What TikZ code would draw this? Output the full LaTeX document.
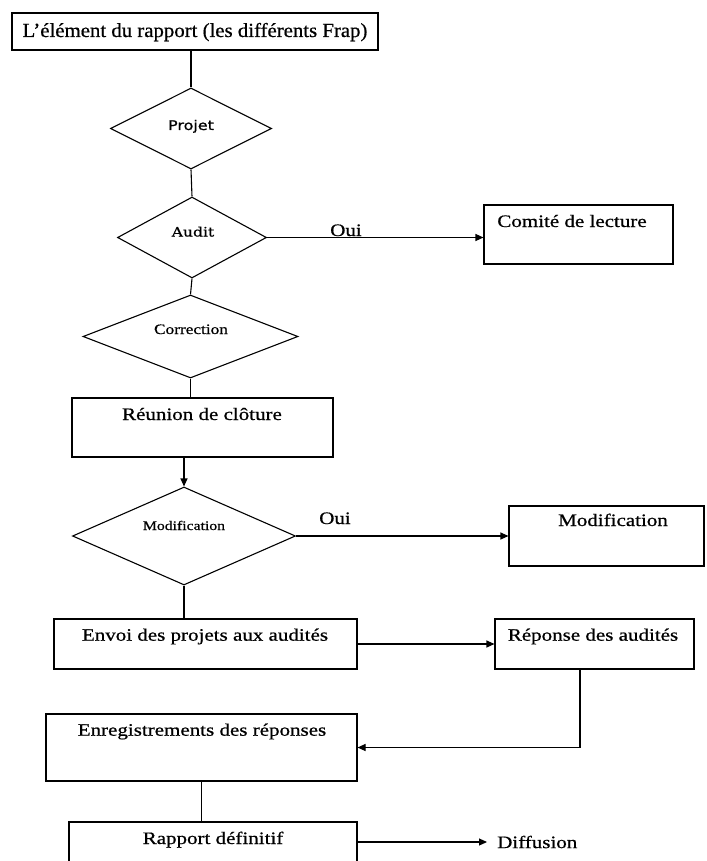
\documentclass[tikz,border=0pt]{standalone}
\usepackage{fontspec}
\usepackage{graphicx}
\setmainfont{Liberation Serif}[RawFeature={embolden=0.6}]
\newfontfamily\dvsans{DejaVu Sans}[RawFeature={embolden=0.9}]
\newfontfamily\dvserif{DejaVu Serif}[RawFeature={embolden=0.6}]
\usetikzlibrary{shapes.geometric,arrows.meta}
\newcommand\wx[1]{\scalebox{1.2}[1]{#1}}
\tikzset{
  box/.style={draw, line width=1.1pt, rectangle, inner sep=0pt},
  dia/.style={draw, line width=1.1pt, diamond, inner sep=0pt},
  conn/.style={line width=1.1pt},
  arr/.style={line width=1.1pt, -{Triangle[length=8pt,width=7pt]}},
  txt/.style={anchor=base, inner sep=0pt, font=\fontsize{17.5}{20}\selectfont},
}
\begin{document}
\begin{tikzpicture}[x=1pt,y=-1pt]
\clip (0,0) rectangle (706,861);
\fill[white] (0,0) rectangle (706,861);
% boxes
\node[box, minimum width=366pt, minimum height=37pt] (top) at (195,31.5) {};
\node[txt, font=\fontsize{20}{24}\selectfont] (toptxt) at (195,37) {\scalebox{1.04}[1]{L’élément du rapport (les différents Frap)}};

\node[dia, minimum width=161pt, minimum height=81pt] (projet) at (191,128.5) {};
\node[txt, font=\dvsans\fontsize{13.3}{16}\selectfont] (projettxt) at (191,130) {\wx{Projet}};

\node[dia, minimum width=149pt, minimum height=81pt] (audit) at (192,237.5) {};
\node[txt, font=\dvserif\fontsize{13}{16}\selectfont] (audittxt) at (193,236.5) {\wx{Audit}};

\node[box, minimum width=189pt, minimum height=59pt] (comite) at (578.5,234.5) {};
\node[txt] (comitetxt) at (572,227) {\wx{Comité de lecture}};

\node[dia, minimum width=215pt, minimum height=83pt] (correction) at (190.5,336.5) {};
\node[txt, font=\fontsize{14.4}{17}\selectfont] (correctiontxt) at (191,334) {\wx{Correction}};

\node[box, minimum width=261pt, minimum height=59pt] (reunion) at (202.5,427.5) {};
\node[txt] (reuniontxt) at (202,420) {\wx{Réunion de clôture}};

\node[dia, minimum width=223pt, minimum height=98pt] (modif) at (184,536) {};
\node[txt, font=\fontsize{13.1}{16}\selectfont] (modiftxt) at (184,530) {\wx{Modification}};

\node[box, minimum width=195pt, minimum height=60pt] (modbox) at (606.5,536) {};
\node[txt] (modboxtxt) at (613,526) {\wx{Modification}};

\node[box, minimum width=303pt, minimum height=50pt] (envoi) at (205.5,644) {};
\node[txt] (envoitxt) at (205,640.7) {\wx{Envoi des projets aux audités}};

\node[box, minimum width=199pt, minimum height=50pt] (reponse) at (594.5,644) {};
\node[txt] (reponsetxt) at (593,640.7) {\wx{Réponse des audités}};

\node[box, minimum width=311pt, minimum height=67pt] (enreg) at (201.5,747.5) {};
\node[txt] (enregtxt) at (202,735.7) {\wx{Enregistrements des réponses}};

\node[box, minimum width=288pt, minimum height=40pt] (rapport) at (213,842) {};
\node[txt] (rapporttxt) at (213,844) {\wx{Rapport définitif}};

\node[anchor=west, inner xsep=10pt, inner ysep=0pt, font=\fontsize{17.5}{20}\selectfont] (diffusion) at (487,842) {\wx{Diffusion}};

\node[txt] (oui1) at (346,236) {\wx{Oui}};
\node[txt] (oui2) at (335,524) {\wx{Oui}};

% connectors
\draw[conn] (top.south -| projet.north) -- (projet.north);
\draw[conn] (projet.south) -- (audit.north);
\draw[arr] (audit.east) -- (audit.east -| comite.west);
\draw[conn] (audit.south) -- (correction.north);
\draw[conn] (correction.south) -- (correction.south |- reunion.north);
\draw[arr] (modif.north |- reunion.south) -- (modif.north);
\draw[arr] (modif.east) -- (modif.east -| modbox.west);
\draw[conn] (modif.south) -- (modif.south |- envoi.north);
\draw[arr] (envoi.east) -- (envoi.east -| reponse.west);
\draw[arr] ([xshift=-14.5pt]reponse.south) -- ([xshift=-14.5pt]reponse.south |- enreg.east) -- (enreg.east);
\draw[conn] (enreg.south) -- (enreg.south |- rapport.north);
\draw[arr] (rapport.east) -- (diffusion.west);
\end{tikzpicture}
\end{document}
